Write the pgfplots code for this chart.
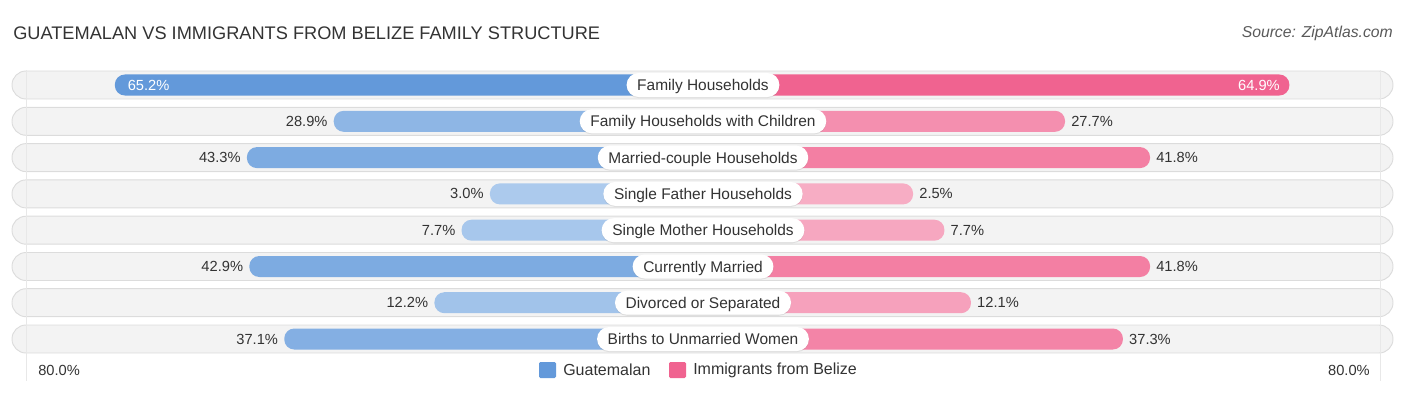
\documentclass[border=0pt]{standalone}
\usepackage{fontspec}
\setmainfont{Liberation Sans}
\usepackage{pgfplots}
\pgfplotsset{compat=1.18}
\usetikzlibrary{shadows}

\definecolor{gstrong}{HTML}{6399DA}
\definecolor{glight}{HTML}{B0CDEE}
\definecolor{pstrong}{HTML}{F06390}
\definecolor{plight}{HTML}{F7B0C6}
\definecolor{rowbg}{HTML}{F3F3F3}
\definecolor{rowedge}{HTML}{DCDCDC}
\definecolor{txt}{HTML}{333333}

\pgfplotsset{
  barbase/.style={xbar, bar width=21, bar shift=0pt, draw=none, rounded corners=7.5pt,
    point meta=explicit,
    nodes near coords={\pgfmathprintnumber[fixed,fixed zerofill,precision=1,assume math mode=true]{\pgfplotspointmeta}\%},
    every node near coord/.append style={font=\fontsize{11}{13}\selectfont, text=txt, inner sep=0pt}},
  gbar/.style={barbase, x filter/.expression={-(195+6.03*x)},
    every node near coord/.append style={anchor=east, xshift=-4.5pt}},
  pbar/.style={barbase, x filter/.expression={195+6.03*x},
    every node near coord/.append style={anchor=west, xshift=4.5pt}},
  gbarin/.style={barbase, x filter/.expression={-(195+6.03*x)},
    every node near coord/.append style={anchor=west, xshift=9.5pt, text=white}},
  pbarin/.style={barbase, x filter/.expression={195+6.03*x},
    every node near coord/.append style={anchor=east, xshift=-7pt, text=white}},
}

\begin{document}
\begin{tikzpicture}
\begin{axis}[
  width=1054.5pt, height=296.25pt, scale only axis,
  xmin=-703, xmax=703, ymin=0, ymax=395, y dir=reverse,
  hide axis, clip=false,
]
% keep the full frame as bounding box
\path (rel axis cs:0,0) rectangle (rel axis cs:1,1);
% row backgrounds
\foreach \yy in {85,121.3,157.6,193.9,230.2,266.5,302.7,339}{
  \edef\tmp{\noexpand\fill[rowbg, draw=rowedge, line width=0.7pt, rounded corners=10.5pt]
    (axis cs:-691,\yy-14) rectangle (axis cs:690,\yy+14);}
  \tmp
}
% faint 80% lines
\draw[black!9, line width=0.6pt] (axis cs:-677,70) -- (axis cs:-677,381);
\draw[black!9, line width=0.6pt] (axis cs:677,70) -- (axis cs:677,381);

% Guatemalan
\addplot[gbarin, fill=gstrong!100!glight] coordinates {(65.2,85) [65.2]};
\addplot[gbar, fill=gstrong!44!glight] coordinates {(28.9,121.3) [28.9]};
\addplot[gbar, fill=gstrong!66!glight] coordinates {(43.3,157.6) [43.3]};
\addplot[gbar, fill=gstrong!5!glight] coordinates {(3.0,193.9) [3.0]};
\addplot[gbar, fill=gstrong!12!glight] coordinates {(7.7,230.2) [7.7]};
\addplot[gbar, fill=gstrong!66!glight] coordinates {(42.9,266.5) [42.9]};
\addplot[gbar, fill=gstrong!19!glight] coordinates {(12.2,302.7) [12.2]};
\addplot[gbar, fill=gstrong!57!glight] coordinates {(37.1,339) [37.1]};
% Immigrants from Belize
\addplot[pbarin, fill=pstrong!100!plight] coordinates {(64.9,85) [64.9]};
\addplot[pbar, fill=pstrong!43!plight] coordinates {(27.7,121.3) [27.7]};
\addplot[pbar, fill=pstrong!64!plight] coordinates {(41.8,157.6) [41.8]};
\addplot[pbar, fill=pstrong!4!plight] coordinates {(2.5,193.9) [2.5]};
\addplot[pbar, fill=pstrong!12!plight] coordinates {(7.7,230.2) [7.7]};
\addplot[pbar, fill=pstrong!64!plight] coordinates {(41.8,266.5) [41.8]};
\addplot[pbar, fill=pstrong!19!plight] coordinates {(12.1,302.7) [12.1]};
\addplot[pbar, fill=pstrong!57!plight] coordinates {(37.3,339) [37.3]};

% category pills
\tikzset{pill/.style={fill=white, rounded corners=9pt, minimum height=18pt, inner xsep=8pt, inner ysep=0pt,
  text height=8.3pt, text depth=0pt,
  font=\fontsize{11.6}{13}\selectfont, text=txt, drop shadow={shadow xshift=0pt, shadow yshift=-0.8pt, opacity=0.18}}}
\node[pill] at (axis cs:0,85) {Family Households};
\node[pill] at (axis cs:0,121.3) {Family Households with Children};
\node[pill] at (axis cs:0,157.6) {Married-couple Households};
\node[pill] at (axis cs:0,193.9) {Single Father Households};
\node[pill] at (axis cs:0,230.2) {Single Mother Households};
\node[pill] at (axis cs:0,266.5) {Currently Married};
\node[pill] at (axis cs:0,302.7) {Divorced or Separated};
\node[pill] at (axis cs:0,339) {Births to Unmarried Women};

% title and source
\node[anchor=west, inner sep=0pt, font=\fontsize{13.65}{16}\selectfont, text=txt] at (axis cs:-690,33) {GUATEMALAN VS IMMIGRANTS FROM BELIZE FAMILY STRUCTURE};
\node[anchor=east, inner sep=0pt, font=\fontsize{11.8}{14}\selectfont\itshape, text=black!65] at (axis cs:690,33) {Source: ZipAtlas.com};

% axis end labels
\node[anchor=west, inner sep=0pt, font=\fontsize{11}{13}\selectfont, text=txt] at (axis cs:-665,370) {80.0\%};
\node[anchor=east, inner sep=0pt, font=\fontsize{11}{13}\selectfont, text=txt] at (axis cs:667,370) {80.0\%};

% legend
\fill[gstrong, rounded corners=1pt] (axis cs:-164,362) rectangle (axis cs:-147,378);
\node[anchor=west, inner sep=0pt, font=\fontsize{12}{14}\selectfont, text=txt] at (axis cs:-140,370) {Guatemalan};
\fill[pstrong, rounded corners=1pt] (axis cs:-34,362) rectangle (axis cs:-17,378);
\node[anchor=west, inner sep=0pt, font=\fontsize{12}{14}\selectfont, text=txt] at (axis cs:-10,370) {Immigrants from Belize};
\end{axis}
\end{tikzpicture}
\end{document}
